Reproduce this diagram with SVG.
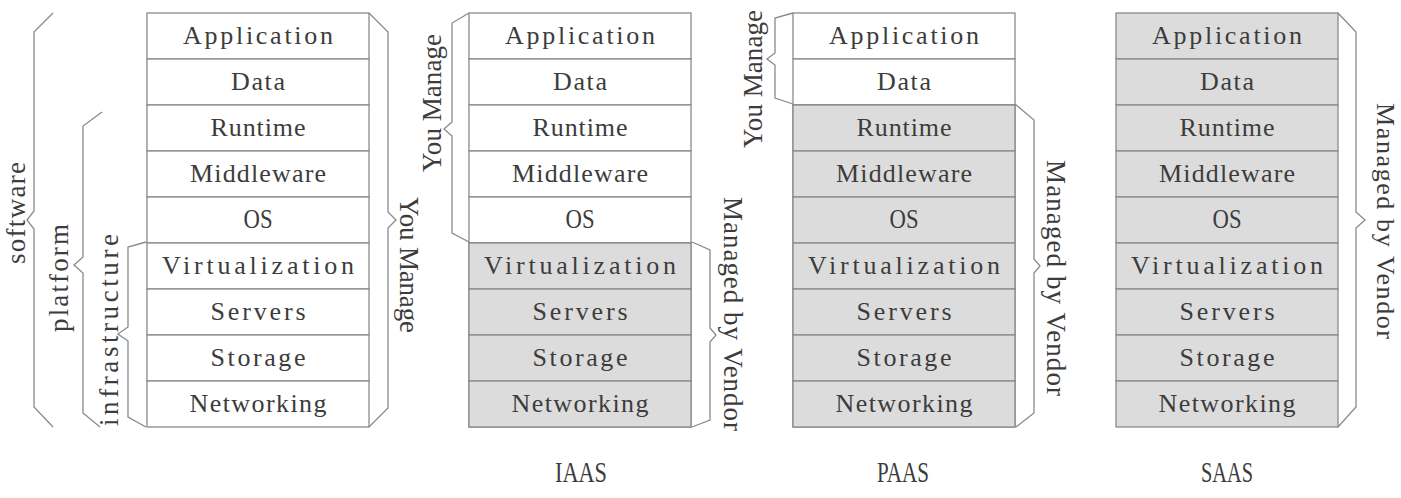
<svg xmlns="http://www.w3.org/2000/svg" width="1401" height="498" viewBox="0 0 1401 498">
<style>
.cell{fill:#ffffff;stroke:#8a8a8a;stroke-width:1.3}
.gc{fill:#dcdcdc;stroke:#8a8a8a;stroke-width:1.3}
.t{font-family:"Liberation Serif","Times New Roman",serif;font-size:26px;fill:#3c3c3c;text-anchor:middle}
.r{font-family:"Liberation Serif","Times New Roman",serif;font-size:27px;fill:#3c3c3c;text-anchor:middle}
.ti{font-family:"Liberation Serif","Times New Roman",serif;font-size:30px;fill:#3c3c3c;text-anchor:middle}
.b{fill:none;stroke:#8a8a8a;stroke-width:1.3;stroke-linejoin:miter}
</style>
<rect width="1401" height="498" fill="#ffffff"/>
<defs>
<g id="stack">
<rect class="cell" x="0" y="0" width="222" height="46"/>
<rect class="cell" x="0" y="46" width="222" height="46"/>
<rect class="cell" x="0" y="92" width="222" height="46"/>
<rect class="cell" x="0" y="138" width="222" height="46"/>
<rect class="cell" x="0" y="184" width="222" height="46"/>
<rect class="cell" x="0" y="230" width="222" height="46"/>
<rect class="cell" x="0" y="276" width="222" height="46"/>
<rect class="cell" x="0" y="322" width="222" height="46"/>
<rect class="cell" x="0" y="368" width="222" height="46"/>
</g>
<g id="labels">
<text class="t" x="111" y="31" textLength="150" lengthAdjust="spacing">Application</text>
<text class="t" x="111" y="77" textLength="54" lengthAdjust="spacing">Data</text>
<text class="t" x="111" y="123" textLength="95" lengthAdjust="spacing">Runtime</text>
<text class="t" x="111" y="169" textLength="136" lengthAdjust="spacing">Middleware</text>
<text class="t" x="111" y="215" textLength="29" lengthAdjust="spacingAndGlyphs" style="font-size:28px">OS</text>
<text class="t" x="111" y="261" textLength="192" lengthAdjust="spacing">Virtualization</text>
<text class="t" x="111" y="307" textLength="95" lengthAdjust="spacing">Servers</text>
<text class="t" x="111" y="353" textLength="95" lengthAdjust="spacing">Storage</text>
<text class="t" x="111" y="399" textLength="137" lengthAdjust="spacing">Networking</text>
</g>
</defs>

<g id="stack-onprem" transform="translate(147,13)">
<use href="#stack"/>
<use href="#labels"/>
</g>

<g id="stack-iaas" transform="translate(469,13)">
<use href="#stack"/>
<rect class="gc" x="0" y="230" width="222" height="46"/>
<rect class="gc" x="0" y="276" width="222" height="46"/>
<rect class="gc" x="0" y="322" width="222" height="46"/>
<rect class="gc" x="0" y="368" width="222" height="46"/>
<use href="#labels"/>
</g>

<g id="stack-paas" transform="translate(793,13)">
<use href="#stack"/>
<rect class="gc" x="0" y="92" width="222" height="46"/>
<rect class="gc" x="0" y="138" width="222" height="46"/>
<rect class="gc" x="0" y="184" width="222" height="46"/>
<rect class="gc" x="0" y="230" width="222" height="46"/>
<rect class="gc" x="0" y="276" width="222" height="46"/>
<rect class="gc" x="0" y="322" width="222" height="46"/>
<rect class="gc" x="0" y="368" width="222" height="46"/>
<use href="#labels"/>
</g>

<g id="stack-saas" transform="translate(1116,13)">
<rect class="gc" x="0" y="0" width="222" height="46"/>
<rect class="gc" x="0" y="46" width="222" height="46"/>
<rect class="gc" x="0" y="92" width="222" height="46"/>
<rect class="gc" x="0" y="138" width="222" height="46"/>
<rect class="gc" x="0" y="184" width="222" height="46"/>
<rect class="gc" x="0" y="230" width="222" height="46"/>
<rect class="gc" x="0" y="276" width="222" height="46"/>
<rect class="gc" x="0" y="322" width="222" height="46"/>
<rect class="gc" x="0" y="368" width="222" height="46"/>
<use href="#labels"/>
</g>

<g id="connectors">
<path class="b" d="M53,13 L34,32 L34,211 L27,220 L34,229 L34,407 L53,427"/>
<path class="b" d="M102,112 L83,126 L83,257 L74,265 L83,273 L83,413 L100,427"/>
<path class="b" d="M146,242 L128,247 L128,327 L118,334 L128,341 L128,417 L146,427"/>
<path class="b" d="M369,13 L388,32 L388,212 L396,220 L388,228 L388,408 L369,427"/>
<path class="b" d="M469,13 L452,23 L452,122 L444,129 L452,136 L452,233 L469,242"/>
<path class="b" d="M692,242 L710,250 L710,328 L716,335 L710,342 L710,420 L692,427"/>
<path class="b" d="M793,13 L775,18 L775,53 L767,59 L775,65 L775,98 L793,104"/>
<path class="b" d="M1015,104 L1034,120 L1034,259 L1040,266 L1034,273 L1034,413 L1016,427"/>
<path class="b" d="M1338,13 L1356,32 L1356,212 L1365,220 L1356,228 L1356,407 L1338,427"/>
</g>

<g id="brace-labels">
<text class="r" transform="translate(25,213) rotate(-90)" textLength="102" lengthAdjust="spacing">software</text>
<text class="r" transform="translate(68,278) rotate(-90)" textLength="108" lengthAdjust="spacing">platform</text>
<text class="r" transform="translate(118,330) rotate(-90)" textLength="192" lengthAdjust="spacing">infrastructure</text>
<text class="r" transform="translate(400,265) rotate(90)" textLength="136" lengthAdjust="spacing">You Manage</text>
<text class="r" transform="translate(441,103) rotate(-90)" textLength="138" lengthAdjust="spacing">You Manage</text>
<text class="r" transform="translate(724,314) rotate(90)" textLength="234" lengthAdjust="spacing">Managed by Vendor</text>
<text class="r" transform="translate(762,79) rotate(-90)" textLength="138" lengthAdjust="spacing">You Manage</text>
<text class="r" transform="translate(1047,278) rotate(90)" textLength="236" lengthAdjust="spacing">Managed by Vendor</text>
<text class="r" transform="translate(1377,221) rotate(90)" textLength="236" lengthAdjust="spacing" style="font-size:26px">Managed by Vendor</text>
</g>

<g id="titles">
<text class="ti" x="581" y="482" textLength="52" lengthAdjust="spacingAndGlyphs">IAAS</text>
<text class="ti" x="903" y="482" textLength="52" lengthAdjust="spacingAndGlyphs">PAAS</text>
<text class="ti" x="1227" y="482" textLength="52" lengthAdjust="spacingAndGlyphs">SAAS</text>
</g>
</svg>
